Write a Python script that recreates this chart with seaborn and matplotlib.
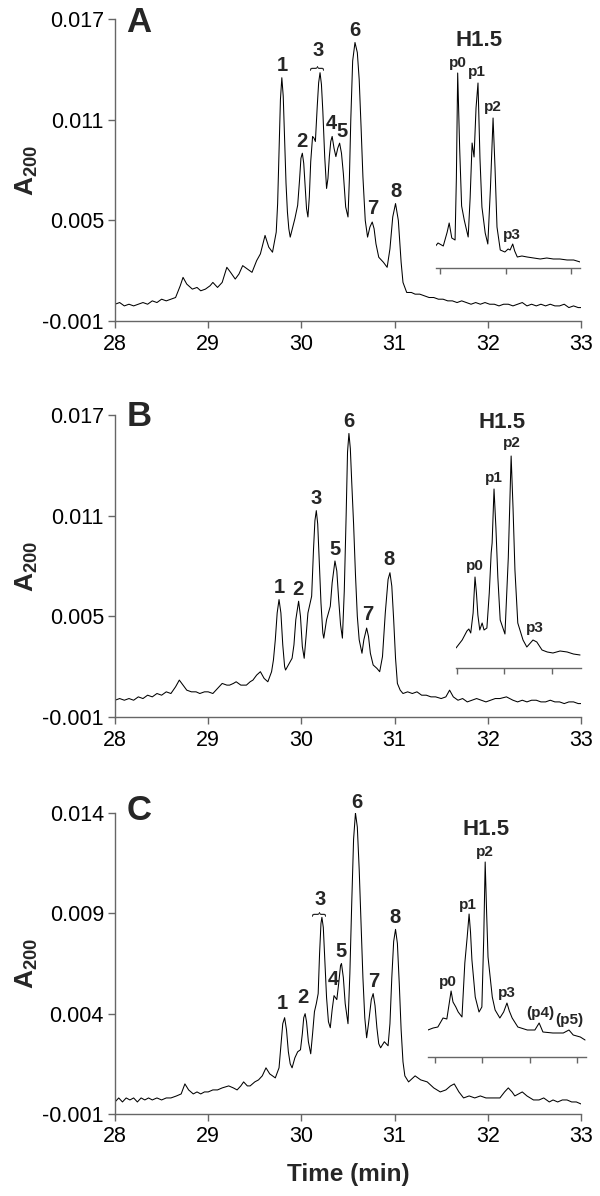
import matplotlib
matplotlib.use("Agg")
import matplotlib.pyplot as plt
import seaborn as sns
import pandas as pd

# ---------------- data ----------------
time_a = [28.00, 28.05, 28.10, 28.15, 28.20, 28.25, 28.30, 28.35, 28.40, 28.45, 28.50, 28.55, 28.60, 28.65,
          28.70, 28.73, 28.77, 28.83, 28.88, 28.92, 28.97, 29.02, 29.05, 29.10, 29.15, 29.20, 29.24, 29.29,
          29.33, 29.37, 29.42, 29.47, 29.52, 29.56, 29.61, 29.65, 29.69, 29.73, 29.745, 29.76, 29.775, 29.79,
          29.805, 29.82, 29.835, 29.85, 29.865, 29.88, 29.93, 29.96, 29.98, 29.995, 30.01, 30.025, 30.04, 30.055,
          30.07, 30.085, 30.10, 30.12, 30.135, 30.15, 30.17, 30.185, 30.20, 30.215, 30.23, 30.25, 30.27, 30.285,
          30.30, 30.315, 30.33, 30.35, 30.37, 30.39, 30.41, 30.43, 30.45, 30.475, 30.50, 30.515, 30.53, 30.55,
          30.575, 30.60, 30.62, 30.64, 30.66, 30.685, 30.71, 30.735, 30.76, 30.78, 30.80, 30.83, 30.88, 30.92,
          30.95, 30.98, 31.01, 31.04, 31.07, 31.09, 31.13, 31.18, 31.22, 31.27, 31.32, 31.37, 31.42,
          31.47, 31.52, 31.57, 31.62, 31.67, 31.72, 31.77, 31.82, 31.87, 31.92, 31.97, 32.02, 32.07, 32.12,
          32.17, 32.22, 32.27, 32.32, 32.37, 32.42, 32.47, 32.52, 32.57, 32.62, 32.67, 32.72, 32.77, 32.82,
          32.87, 32.92, 32.97, 33.00]
abs_a = [0.0000, 0.0001, -0.0001, 0.0000, -0.0001, 0.0000, 0.0001, 0.0000, 0.0002, 0.0001, 0.0003, 0.0002, 0.0003, 0.0004,
         0.0011, 0.0016, 0.0012, 0.0009, 0.0010, 0.0008, 0.0009, 0.0011, 0.0013, 0.0010, 0.0013, 0.0022, 0.0019, 0.0015,
         0.0018, 0.0023, 0.0021, 0.0019, 0.0026, 0.0030, 0.0041, 0.0034, 0.0031, 0.0043, 0.0060, 0.0090, 0.0122, 0.0135,
         0.0124, 0.0098, 0.0072, 0.0055, 0.0045, 0.0040, 0.0051, 0.0059, 0.0074, 0.0087, 0.0090, 0.0084, 0.0070, 0.0057,
         0.0052, 0.0064, 0.0085, 0.0100, 0.0099, 0.0097, 0.0118, 0.0132, 0.0138, 0.0131, 0.0115, 0.0088, 0.0069, 0.0075,
         0.0088, 0.0097, 0.0100, 0.0093, 0.0088, 0.0093, 0.0096, 0.0090, 0.0078, 0.0058, 0.0052, 0.0075, 0.0110, 0.0145,
         0.0156, 0.0150, 0.0134, 0.0106, 0.0076, 0.0050, 0.0040, 0.0046, 0.0049, 0.0045, 0.0036, 0.0028, 0.0025, 0.0022,
         0.0033, 0.0052, 0.0060, 0.0050, 0.0025, 0.0013, 0.0007, 0.0007, 0.0006, 0.0006, 0.0005, 0.0004, 0.0004,
         0.0003, 0.0003, 0.0002, 0.0002, 0.0001, 0.0002, 0.0001, 0.0000, 0.0001, 0.0000, 0.0001, 0.0000, 0.0000, -0.0001,
         0.0000, 0.0000, -0.0001, 0.0000, 0.0001, -0.0001, 0.0000, -0.0001, 0.0000, -0.0001, 0.0000, -0.0001, -0.0001, 0.0000,
         -0.0002, -0.0001, -0.0002, -0.0002]

time_b = [28.00, 28.05, 28.10, 28.15, 28.20, 28.25, 28.30, 28.35, 28.40, 28.45, 28.50, 28.55, 28.60, 28.65,
          28.69, 28.73, 28.77, 28.82, 28.87, 28.91, 28.96, 29.00, 29.05, 29.10, 29.15, 29.20, 29.23, 29.27,
          29.30, 29.35, 29.41, 29.45, 29.48, 29.52, 29.56, 29.60, 29.64, 29.68, 29.70, 29.72, 29.74, 29.76,
          29.78, 29.80, 29.82, 29.83, 29.87, 29.90, 29.92, 29.94, 29.97, 29.99, 30.01, 30.03, 30.05, 30.07,
          30.09, 30.11, 30.13, 30.145, 30.16, 30.175, 30.19, 30.21, 30.23, 30.24, 30.27, 30.29, 30.31, 30.33,
          30.36, 30.38, 30.40, 30.42, 30.44, 30.46, 30.48, 30.495, 30.51, 30.525, 30.54, 30.56, 30.58, 30.60,
          30.62, 30.65, 30.67, 30.70, 30.72, 30.74, 30.77, 30.81, 30.84, 30.87, 30.90, 30.93, 30.95, 30.97,
          30.99, 31.01, 31.03, 31.06, 31.09, 31.14, 31.19, 31.24, 31.29, 31.34, 31.39, 31.44, 31.50, 31.55,
          31.59, 31.63, 31.68, 31.73, 31.78, 31.83, 31.88, 31.93, 31.98, 32.03, 32.08, 32.13, 32.20, 32.27,
          32.32, 32.37, 32.42, 32.47, 32.52, 32.57, 32.62, 32.67, 32.72, 32.77, 32.82, 32.87, 32.92, 32.97, 33.00]
abs_b = [0.0000, 0.0001, 0.0000, 0.0001, 0.0000, 0.0002, 0.0001, 0.0003, 0.0002, 0.0004, 0.0003, 0.0005, 0.0004, 0.0008,
         0.0012, 0.0009, 0.0006, 0.0005, 0.0005, 0.0004, 0.0005, 0.0005, 0.0004, 0.0007, 0.0010, 0.0009, 0.0009, 0.0010,
         0.0011, 0.0009, 0.0009, 0.0011, 0.0012, 0.0015, 0.0017, 0.0013, 0.0011, 0.0017, 0.0024, 0.0036, 0.0052, 0.0060,
         0.0052, 0.0033, 0.0020, 0.0018, 0.0022, 0.0025, 0.0033, 0.0048, 0.0059, 0.0050, 0.0032, 0.0025, 0.0038, 0.0052,
         0.0057, 0.0062, 0.0090, 0.0107, 0.0113, 0.0105, 0.0085, 0.0058, 0.0040, 0.0037, 0.0048, 0.0052, 0.0056, 0.0070,
         0.0083, 0.0077, 0.0060, 0.0045, 0.0037, 0.0065, 0.0110, 0.0148, 0.0159, 0.0150, 0.0130, 0.0105, 0.0075, 0.0050,
         0.0036, 0.0028, 0.0036, 0.0043, 0.0038, 0.0028, 0.0021, 0.0019, 0.0017, 0.0026, 0.0052, 0.0072, 0.0076, 0.0068,
         0.0048, 0.0025, 0.0010, 0.0006, 0.0004, 0.0005, 0.0004, 0.0005, 0.0003, 0.0003, 0.0002, 0.0002, 0.0001, 0.0002,
         0.0006, 0.0002, 0.0000, 0.0001, -0.0001, 0.0000, 0.0001, 0.0000, -0.0001, 0.0000, 0.0001, 0.0001, 0.0002, 0.0000,
         -0.0001, 0.0000, -0.0001, 0.0000, 0.0000, -0.0001, -0.0001, 0.0000, -0.0001, -0.0001, -0.0002, -0.0001, -0.0001, -0.0002, -0.0002]

time_c = [28.00, 28.04, 28.08, 28.12, 28.16, 28.20, 28.24, 28.28, 28.32, 28.36, 28.40, 28.45, 28.50, 28.55,
          28.60, 28.66, 28.71, 28.75, 28.79, 28.84, 28.88, 28.92, 28.96, 29.00, 29.05, 29.10, 29.15, 29.22,
          29.27, 29.31, 29.35, 29.38, 29.42, 29.45, 29.50, 29.54, 29.58, 29.62, 29.66, 29.72, 29.76, 29.78,
          29.80, 29.82, 29.84, 29.86, 29.88, 29.90, 29.93, 29.96, 29.99, 30.01, 30.025, 30.04, 30.055, 30.075,
          30.10, 30.12, 30.14, 30.16, 30.18, 30.195, 30.21, 30.22, 30.235, 30.25, 30.27, 30.29, 30.31, 30.33,
          30.35, 30.38, 30.40, 30.42, 30.43, 30.45, 30.47, 30.50, 30.52, 30.54, 30.56, 30.58, 30.60, 30.62,
          30.64, 30.66, 30.68, 30.70, 30.72, 30.75, 30.77, 30.79, 30.81, 30.83, 30.85, 30.89, 30.93, 30.95,
          30.97, 30.99, 31.01, 31.03, 31.05, 31.07, 31.09, 31.11, 31.15, 31.22, 31.28, 31.35, 31.42, 31.49,
          31.55, 31.60, 31.64, 31.69, 31.74, 31.80, 31.86, 31.92, 31.98, 32.05, 32.13, 32.18, 32.22, 32.26,
          32.29, 32.33, 32.37, 32.42, 32.49, 32.55, 32.60, 32.66, 32.70, 32.75, 32.80, 32.85, 32.90, 32.95, 33.00]
abs_c = [-0.0004, -0.0002, -0.0004, -0.0002, -0.0003, -0.0002, -0.0004, -0.0002, -0.0003, -0.0002, -0.0003, -0.0002, -0.0003, -0.0002,
         -0.0002, -0.0001, 0.0000, 0.0005, 0.0002, 0.0000, 0.0001, 0.0000, 0.0001, 0.0001, 0.0002, 0.0002, 0.0003, 0.0004,
         0.0003, 0.0002, 0.0004, 0.0006, 0.0004, 0.0004, 0.0006, 0.0007, 0.0009, 0.0013, 0.0010, 0.0008, 0.0013, 0.0024,
         0.0035, 0.0038, 0.0032, 0.0021, 0.0015, 0.0013, 0.0018, 0.0021, 0.0022, 0.0030, 0.0038, 0.0040, 0.0036, 0.0026,
         0.0020, 0.0030, 0.0041, 0.0045, 0.0050, 0.0070, 0.0085, 0.0088, 0.0083, 0.0068, 0.0048, 0.0036, 0.0033, 0.0042,
         0.0049, 0.0047, 0.0055, 0.0064, 0.0065, 0.0058, 0.0045, 0.0035, 0.0060, 0.0095, 0.0127, 0.0140, 0.0133, 0.0112,
         0.0085, 0.0058, 0.0038, 0.0028, 0.0035, 0.0047, 0.0050, 0.0044, 0.0033, 0.0025, 0.0023, 0.0026, 0.0024, 0.0035,
         0.0058, 0.0076, 0.0082, 0.0075, 0.0055, 0.0032, 0.0016, 0.0009, 0.0006, 0.0009, 0.0007, 0.0006, 0.0003, 0.0001,
         0.0002, 0.0004, 0.0005, 0.0001, -0.0002, -0.0001, -0.0002, -0.0001, -0.0002, -0.0002, -0.0002, 0.0001, 0.0003, 0.0001,
         -0.0001, 0.0000, 0.0001, -0.0001, -0.0003, -0.0003, -0.0002, -0.0004, -0.0003, -0.0004, -0.0003, -0.0003, -0.0004, -0.0004, -0.0005]

# insets (relative scale, H1.5 region)
inset_x_a = [-0.08, -0.03, 0.05, 0.11, 0.14, 0.18, 0.23, 0.25, 0.27, 0.30, 0.33, 0.37, 0.43, 0.46, 0.49, 0.52,
             0.55, 0.58, 0.61, 0.64, 0.69, 0.73, 0.77, 0.81, 0.84, 0.87, 0.92, 0.99, 1.04, 1.07, 1.11, 1.14,
             1.18, 1.25, 1.33, 1.43, 1.53, 1.63, 1.73, 1.83, 1.94, 2.04, 2.14]
inset_y_a = [0.21, 0.25, 0.22, 0.36, 0.45, 0.30, 0.28, 0.90, 1.95, 1.20, 0.62, 0.48, 0.31, 0.70, 1.25, 1.11,
             1.60, 1.85, 1.10, 0.61, 0.35, 0.24, 0.80, 1.50, 1.00, 0.41, 0.18, 0.16, 0.19, 0.18, 0.24, 0.17,
             0.11, 0.12, 0.11, 0.10, 0.09, 0.10, 0.09, 0.09, 0.08, 0.08, 0.06]

inset_x_b = [-0.02, 0.11, 0.21, 0.25, 0.29, 0.34, 0.38, 0.41, 0.44, 0.48, 0.53, 0.57, 0.63, 0.68, 0.72, 0.74,
             0.78, 0.82, 0.86, 0.91, 1.01, 1.08, 1.14, 1.18, 1.22, 1.28, 1.39, 1.47, 1.60, 1.68, 1.79, 1.90,
             2.02, 2.17, 2.32, 2.45, 2.59]
inset_y_b = [0.20, 0.28, 0.37, 0.39, 0.35, 0.55, 0.91, 0.75, 0.53, 0.38, 0.45, 0.38, 0.40, 0.75, 1.15, 1.25,
             1.79, 1.40, 0.91, 0.48, 0.34, 1.10, 2.12, 1.60, 0.98, 0.45, 0.28, 0.21, 0.28, 0.26, 0.18, 0.16,
             0.15, 0.17, 0.16, 0.14, 0.13]

inset_x_c = [-0.15, -0.04, 0.06, 0.17, 0.25, 0.34, 0.38, 0.44, 0.49, 0.57, 0.63, 0.68, 0.72, 0.75, 0.78, 0.85,
             0.93, 0.99, 1.03, 1.06, 1.09, 1.12, 1.21, 1.27, 1.37, 1.45, 1.52, 1.57, 1.63, 1.75, 1.95, 2.11,
             2.20, 2.28, 2.49, 2.71, 2.83, 2.92, 3.07, 3.17]
inset_y_c = [0.27, 0.29, 0.30, 0.39, 0.38, 0.66, 0.55, 0.50, 0.45, 0.40, 0.94, 1.20, 1.43, 1.25, 0.97, 0.60,
             0.45, 0.50, 1.20, 1.95, 1.45, 1.00, 0.60, 0.47, 0.39, 0.45, 0.54, 0.46, 0.39, 0.30, 0.27, 0.27,
             0.34, 0.25, 0.24, 0.24, 0.27, 0.22, 0.20, 0.17]

peak_names_a = ["1", "2", "3", "4", "5", "6", "7", "8"]
peak_names_b = ["1", "2", "3", "5", "6", "7", "8"]
peak_names_c = ["1", "2", "3", "4", "5", "6", "7", "8"]
inset_names_a = ["p0", "p1", "p2", "p3"]
inset_names_b = ["p0", "p1", "p2", "p3"]
inset_names_c = ["p0", "p1", "p2", "p3", "(p4)", "(p5)"]

yticks_ab = [-0.001, 0.005, 0.011, 0.017]
yticks_c = [-0.001, 0.004, 0.009, 0.014]
xticks = [28, 29, 30, 31, 32, 33]

# ---------------- label positions (layout) ----------------
pos_a = [(29.79, 0.0142), (30.01, 0.0097), (30.18, 0.0151), (30.32, 0.0108), (30.44, 0.0103),
         (30.575, 0.0163), (30.77, 0.0057), (31.01, 0.0067)]
brace_a = (30.18, 0.0141)
pos_b = [(29.76, 0.0067), (29.96, 0.0066), (30.16, 0.0120), (30.36, 0.0090), (30.51, 0.0166),
         (30.71, 0.0051), (30.94, 0.0084)]
pos_c = [(29.80, 0.0045), (30.02, 0.0048), (30.20, 0.0097), (30.34, 0.0057), (30.42, 0.0071),
         (30.59, 0.0145), (30.78, 0.0056), (31.00, 0.0088)]
brace_c = (30.20, 0.0090)
ipos_a = [(0.27, 2.05), (0.56, 1.96), (0.81, 1.61), (1.10, 0.33)]
ititle_a = (0.60, 2.28)
ipos_b = [(0.38, 1.02), (0.78, 1.90), (1.16, 2.25), (1.64, 0.40)]
ititle_b = (0.95, 2.45)
ipos_c = [(0.27, 0.75), (0.70, 1.52), (1.06, 2.05), (1.52, 0.64), (2.22, 0.44), (2.83, 0.37)]
ititle_c = (1.08, 2.28)

# ---------------- style ----------------
sns.set_style("ticks")
plt.rcParams["font.family"] = ["Liberation Sans", "DejaVu Sans"]
plt.rcParams["mathtext.fontset"] = "custom"
plt.rcParams["mathtext.rm"] = "Liberation Sans"
plt.rcParams["mathtext.bf"] = "Liberation Sans:bold"

W, H = 600, 1196
fig = plt.figure(figsize=(W / 100, H / 100), dpi=100)
fig.patch.set_facecolor("white")

SPINE = "#666666"


def fx(px):
    return px / W


def fy(py):
    return 1 - py / H


def main_axes(top, bottom):
    return fig.add_axes([fx(115), fy(bottom), fx(581) - fx(115), (bottom - top) / H])


def style_main(ax, yticks):
    ax.set_xlim(28, 33)
    ax.set_ylim(yticks[0], yticks[-1])
    ax.set_xticks(xticks)
    ax.set_xticklabels([str(t) for t in xticks])
    ax.set_yticks(yticks)
    ax.set_yticklabels([f"{t:.3f}" for t in yticks])
    for s in ["top", "right"]:
        ax.spines[s].set_visible(False)
    for s in ["left", "bottom"]:
        ax.spines[s].set_color(SPINE)
        ax.spines[s].set_linewidth(1.0)
    ax.tick_params(axis="both", direction="out", length=5, width=1.0, color=SPINE,
                   labelsize=15.5, labelcolor="black")
    ax.tick_params(axis="x", pad=4)
    ax.tick_params(axis="y", pad=3)
    ax.set_xlabel("")
    ax.set_ylabel(r"$\mathbf{A_{200}}$", fontsize=19, labelpad=2)
    ax.set_facecolor("none")


def draw_trace(ax, t, v):
    df = pd.DataFrame({"time": t, "abs": v})
    sns.lineplot(data=df, x="time", y="abs", ax=ax, color="black", linewidth=0.75,
                 estimator=None, sort=False)


def inset_axes(left, right, axis_y, top, xlim, ylim, ticks):
    ax = fig.add_axes([fx(left), fy(axis_y), fx(right) - fx(left), (axis_y - top) / H])
    ax.set_xlim(*xlim)
    ax.set_ylim(*ylim)
    ax.set_facecolor("none")
    for s in ["top", "right", "left"]:
        ax.spines[s].set_visible(False)
    ax.spines["bottom"].set_color(SPINE)
    ax.spines["bottom"].set_linewidth(1.0)
    ax.set_xticks(ticks)
    ax.set_xticklabels([])
    ax.set_yticks([])
    ax.tick_params(axis="x", direction="out", length=4, width=1.0, color=SPINE)
    return ax


def label_peaks(ax, names, pos, size=14.5):
    for n, (x, y) in zip(names, pos):
        ax.text(x, y, n, ha="center", va="center", fontsize=size, fontweight="bold", clip_on=False)


def brace(ax, xy):
    ax.text(xy[0], xy[1], "}", rotation=90, ha="center", va="center", fontsize=11, clip_on=False)


def finish_inset(ax, names, pos, title_xy):
    ax.set_xlabel("")
    ax.set_ylabel("")
    label_peaks(ax, names, pos, size=11)
    ax.text(*title_xy, "H1.5", ha="center", va="center", fontsize=16, fontweight="bold", clip_on=False)


# Panel A
axA = main_axes(19, 321)
draw_trace(axA, time_a, abs_a)
style_main(axA, yticks_ab)
label_peaks(axA, peak_names_a, pos_a)
brace(axA, brace_a)
fig.text(fx(139), fy(22), "A", ha="center", va="center", fontsize=25, fontweight="bold")
iA = inset_axes(436, 580, 268, 30, (-0.061, 2.137), (0, 2.38), [0, 1, 2])
draw_trace(iA, inset_x_a, inset_y_a)
finish_inset(iA, inset_names_a, ipos_a, ititle_a)

# Panel B
axB = main_axes(415, 717)
draw_trace(axB, time_b, abs_b)
style_main(axB, yticks_ab)
label_peaks(axB, peak_names_b, pos_b)
fig.text(fx(139), fy(416), "B", ha="center", va="center", fontsize=25, fontweight="bold")
iB = inset_axes(456, 581, 668, 418, (-0.02, 2.61), (0, 2.5), [0, 1, 2])
draw_trace(iB, inset_x_b, inset_y_b)
finish_inset(iB, inset_names_b, ipos_b, ititle_b)

# Panel C
axC = main_axes(813, 1114)
draw_trace(axC, time_c, abs_c)
style_main(axC, yticks_c)
label_peaks(axC, peak_names_c, pos_c)
brace(axC, brace_c)
fig.text(fx(139), fy(811), "C", ha="center", va="center", fontsize=25, fontweight="bold")
iC = inset_axes(428, 586, 1057, 817, (-0.148, 3.19), (0, 2.4), [0, 1, 2, 3])
draw_trace(iC, inset_x_c, inset_y_c)
finish_inset(iC, inset_names_c, ipos_c, ititle_c)

fig.text(fx(348), fy(1175), "Time (min)", ha="center", va="center", fontsize=17.5, fontweight="bold")

fig.savefig("out.png", dpi=100, facecolor="white")
